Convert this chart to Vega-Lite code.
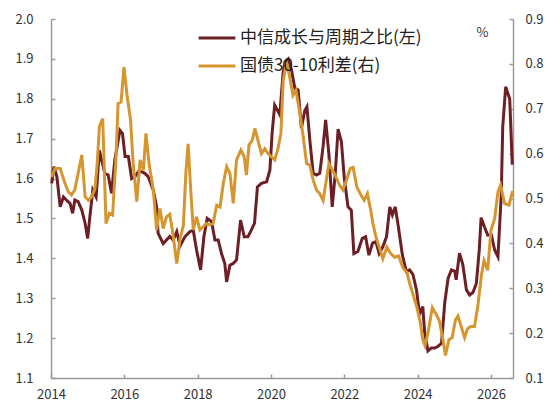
{
  "$schema": "https://vega.github.io/schema/vega-lite/v6.json",
  "width": 462,
  "height": 359,
  "autosize": {"type": "none"},
  "padding": {"left": 51, "top": 19, "right": 47, "bottom": 33},
  "background": "white",
  "config": {
    "view": {"stroke": null},
    "font": "Noto Sans CJK SC",
    "axis": {
      "grid": false,
      "domainColor": "#9a9a9a",
      "domainWidth": 1.5,
      "tickColor": "#9a9a9a",
      "tickWidth": 1.5,
      "tickSize": -4,
      "labelColor": "#333333",
      "labelFontSize": 13,
      "labelFont": "Noto Sans CJK SC",
      "titleFont": "Noto Sans CJK SC"
    }
  },
  "datasets": {
    "growth": [
      {"t": 2014.02, "v": 1.588}, {"t": 2014.08, "v": 1.630}, {"t": 2014.16, "v": 1.605}, {"t": 2014.25, "v": 1.529},
      {"t": 2014.34, "v": 1.554}, {"t": 2014.43, "v": 1.545}, {"t": 2014.52, "v": 1.538}, {"t": 2014.59, "v": 1.513},
      {"t": 2014.65, "v": 1.546}, {"t": 2014.74, "v": 1.542}, {"t": 2014.84, "v": 1.521}, {"t": 2014.93, "v": 1.488},
      {"t": 2015.00, "v": 1.450}, {"t": 2015.06, "v": 1.504}, {"t": 2015.14, "v": 1.571}, {"t": 2015.23, "v": 1.554},
      {"t": 2015.32, "v": 1.671}, {"t": 2015.38, "v": 1.646}, {"t": 2015.47, "v": 1.613}, {"t": 2015.56, "v": 1.609},
      {"t": 2015.65, "v": 1.563}, {"t": 2015.74, "v": 1.646}, {"t": 2015.88, "v": 1.721}, {"t": 2015.95, "v": 1.713},
      {"t": 2016.02, "v": 1.655}, {"t": 2016.11, "v": 1.655}, {"t": 2016.20, "v": 1.600}, {"t": 2016.29, "v": 1.605},
      {"t": 2016.38, "v": 1.617}, {"t": 2016.47, "v": 1.617}, {"t": 2016.56, "v": 1.613}, {"t": 2016.65, "v": 1.605},
      {"t": 2016.79, "v": 1.571}, {"t": 2016.88, "v": 1.529}, {"t": 2016.92, "v": 1.463}, {"t": 2017.06, "v": 1.437},
      {"t": 2017.15, "v": 1.446}, {"t": 2017.24, "v": 1.455}, {"t": 2017.33, "v": 1.446}, {"t": 2017.43, "v": 1.467},
      {"t": 2017.52, "v": 1.431}, {"t": 2017.65, "v": 1.454}, {"t": 2017.79, "v": 1.467}, {"t": 2017.88, "v": 1.470},
      {"t": 2017.97, "v": 1.421}, {"t": 2018.08, "v": 1.371}, {"t": 2018.17, "v": 1.454}, {"t": 2018.26, "v": 1.500},
      {"t": 2018.38, "v": 1.492}, {"t": 2018.47, "v": 1.446}, {"t": 2018.56, "v": 1.446}, {"t": 2018.65, "v": 1.412},
      {"t": 2018.74, "v": 1.387}, {"t": 2018.79, "v": 1.341}, {"t": 2018.88, "v": 1.383}, {"t": 2018.97, "v": 1.387},
      {"t": 2019.06, "v": 1.396}, {"t": 2019.17, "v": 1.496}, {"t": 2019.27, "v": 1.454}, {"t": 2019.37, "v": 1.454},
      {"t": 2019.46, "v": 1.470}, {"t": 2019.55, "v": 1.488}, {"t": 2019.63, "v": 1.579}, {"t": 2019.74, "v": 1.588},
      {"t": 2019.88, "v": 1.592}, {"t": 2019.97, "v": 1.621}, {"t": 2020.03, "v": 1.713}, {"t": 2020.10, "v": 1.784},
      {"t": 2020.24, "v": 1.760}, {"t": 2020.33, "v": 1.865}, {"t": 2020.38, "v": 1.893}, {"t": 2020.47, "v": 1.900},
      {"t": 2020.56, "v": 1.872}, {"t": 2020.65, "v": 1.826}, {"t": 2020.74, "v": 1.822}, {"t": 2020.83, "v": 1.726},
      {"t": 2020.92, "v": 1.770}, {"t": 2020.98, "v": 1.780}, {"t": 2021.06, "v": 1.696}, {"t": 2021.15, "v": 1.613},
      {"t": 2021.24, "v": 1.609}, {"t": 2021.33, "v": 1.613}, {"t": 2021.42, "v": 1.680}, {"t": 2021.49, "v": 1.747},
      {"t": 2021.58, "v": 1.660}, {"t": 2021.67, "v": 1.529}, {"t": 2021.75, "v": 1.610}, {"t": 2021.83, "v": 1.724},
      {"t": 2021.92, "v": 1.692}, {"t": 2022.00, "v": 1.600}, {"t": 2022.10, "v": 1.529}, {"t": 2022.19, "v": 1.521},
      {"t": 2022.26, "v": 1.412}, {"t": 2022.37, "v": 1.417}, {"t": 2022.49, "v": 1.450}, {"t": 2022.58, "v": 1.454},
      {"t": 2022.67, "v": 1.408}, {"t": 2022.77, "v": 1.438}, {"t": 2022.86, "v": 1.442}, {"t": 2022.95, "v": 1.412},
      {"t": 2023.05, "v": 1.429}, {"t": 2023.15, "v": 1.454}, {"t": 2023.24, "v": 1.529}, {"t": 2023.31, "v": 1.509},
      {"t": 2023.39, "v": 1.529}, {"t": 2023.48, "v": 1.475}, {"t": 2023.58, "v": 1.410}, {"t": 2023.69, "v": 1.367},
      {"t": 2023.78, "v": 1.371}, {"t": 2023.87, "v": 1.360}, {"t": 2023.97, "v": 1.320}, {"t": 2024.05, "v": 1.260},
      {"t": 2024.14, "v": 1.279}, {"t": 2024.19, "v": 1.215}, {"t": 2024.28, "v": 1.168}, {"t": 2024.37, "v": 1.175},
      {"t": 2024.46, "v": 1.175}, {"t": 2024.55, "v": 1.179}, {"t": 2024.65, "v": 1.187}, {"t": 2024.74, "v": 1.290},
      {"t": 2024.83, "v": 1.350}, {"t": 2024.92, "v": 1.371}, {"t": 2025.01, "v": 1.368}, {"t": 2025.05, "v": 1.346},
      {"t": 2025.14, "v": 1.413}, {"t": 2025.23, "v": 1.385}, {"t": 2025.33, "v": 1.321}, {"t": 2025.42, "v": 1.308},
      {"t": 2025.51, "v": 1.315}, {"t": 2025.60, "v": 1.337}, {"t": 2025.68, "v": 1.421}, {"t": 2025.73, "v": 1.502},
      {"t": 2025.82, "v": 1.479}, {"t": 2025.91, "v": 1.458}, {"t": 2026.01, "v": 1.459}, {"t": 2026.10, "v": 1.421},
      {"t": 2026.19, "v": 1.404}, {"t": 2026.28, "v": 1.560}, {"t": 2026.32, "v": 1.730}, {"t": 2026.40, "v": 1.830},
      {"t": 2026.51, "v": 1.800}, {"t": 2026.58, "v": 1.635}
    ],
    "spread": [
      {"t": 2014.02, "v": 0.548}, {"t": 2014.11, "v": 0.567}, {"t": 2014.25, "v": 0.567}, {"t": 2014.38, "v": 0.534},
      {"t": 2014.47, "v": 0.515}, {"t": 2014.56, "v": 0.508}, {"t": 2014.65, "v": 0.519}, {"t": 2014.74, "v": 0.556},
      {"t": 2014.84, "v": 0.597}, {"t": 2014.93, "v": 0.504}, {"t": 2015.02, "v": 0.496}, {"t": 2015.11, "v": 0.504},
      {"t": 2015.20, "v": 0.522}, {"t": 2015.26, "v": 0.578}, {"t": 2015.32, "v": 0.660}, {"t": 2015.41, "v": 0.678},
      {"t": 2015.50, "v": 0.444}, {"t": 2015.59, "v": 0.467}, {"t": 2015.68, "v": 0.463}, {"t": 2015.77, "v": 0.586},
      {"t": 2015.83, "v": 0.712}, {"t": 2015.91, "v": 0.715}, {"t": 2015.99, "v": 0.793}, {"t": 2016.08, "v": 0.726},
      {"t": 2016.17, "v": 0.675}, {"t": 2016.24, "v": 0.578}, {"t": 2016.34, "v": 0.493}, {"t": 2016.43, "v": 0.586},
      {"t": 2016.52, "v": 0.563}, {"t": 2016.59, "v": 0.645}, {"t": 2016.68, "v": 0.574}, {"t": 2016.79, "v": 0.519},
      {"t": 2016.88, "v": 0.430}, {"t": 2016.97, "v": 0.478}, {"t": 2017.06, "v": 0.433}, {"t": 2017.15, "v": 0.459},
      {"t": 2017.24, "v": 0.465}, {"t": 2017.33, "v": 0.418}, {"t": 2017.43, "v": 0.355}, {"t": 2017.52, "v": 0.411},
      {"t": 2017.61, "v": 0.440}, {"t": 2017.68, "v": 0.560}, {"t": 2017.74, "v": 0.622}, {"t": 2017.81, "v": 0.520},
      {"t": 2017.88, "v": 0.430}, {"t": 2017.97, "v": 0.459}, {"t": 2018.06, "v": 0.430}, {"t": 2018.15, "v": 0.437},
      {"t": 2018.24, "v": 0.444}, {"t": 2018.33, "v": 0.441}, {"t": 2018.42, "v": 0.444}, {"t": 2018.52, "v": 0.485},
      {"t": 2018.61, "v": 0.481}, {"t": 2018.70, "v": 0.534}, {"t": 2018.79, "v": 0.571}, {"t": 2018.88, "v": 0.556},
      {"t": 2018.97, "v": 0.489}, {"t": 2019.06, "v": 0.586}, {"t": 2019.18, "v": 0.608}, {"t": 2019.27, "v": 0.593},
      {"t": 2019.33, "v": 0.552}, {"t": 2019.40, "v": 0.619}, {"t": 2019.49, "v": 0.630}, {"t": 2019.56, "v": 0.656},
      {"t": 2019.63, "v": 0.634}, {"t": 2019.74, "v": 0.600}, {"t": 2019.83, "v": 0.611}, {"t": 2019.92, "v": 0.600},
      {"t": 2020.01, "v": 0.593}, {"t": 2020.10, "v": 0.586}, {"t": 2020.19, "v": 0.611}, {"t": 2020.27, "v": 0.645},
      {"t": 2020.33, "v": 0.760}, {"t": 2020.42, "v": 0.805}, {"t": 2020.51, "v": 0.771}, {"t": 2020.60, "v": 0.730},
      {"t": 2020.68, "v": 0.741}, {"t": 2020.79, "v": 0.689}, {"t": 2020.88, "v": 0.637}, {"t": 2020.97, "v": 0.578},
      {"t": 2021.06, "v": 0.574}, {"t": 2021.15, "v": 0.541}, {"t": 2021.24, "v": 0.519}, {"t": 2021.33, "v": 0.511},
      {"t": 2021.42, "v": 0.496}, {"t": 2021.51, "v": 0.541}, {"t": 2021.58, "v": 0.578}, {"t": 2021.68, "v": 0.563},
      {"t": 2021.77, "v": 0.548}, {"t": 2021.87, "v": 0.530}, {"t": 2021.96, "v": 0.519}, {"t": 2022.06, "v": 0.541},
      {"t": 2022.16, "v": 0.567}, {"t": 2022.24, "v": 0.569}, {"t": 2022.34, "v": 0.526}, {"t": 2022.44, "v": 0.510},
      {"t": 2022.54, "v": 0.496}, {"t": 2022.63, "v": 0.511}, {"t": 2022.71, "v": 0.478}, {"t": 2022.78, "v": 0.444},
      {"t": 2022.86, "v": 0.415}, {"t": 2022.95, "v": 0.392}, {"t": 2023.05, "v": 0.366}, {"t": 2023.16, "v": 0.392},
      {"t": 2023.26, "v": 0.378}, {"t": 2023.37, "v": 0.369}, {"t": 2023.48, "v": 0.372}, {"t": 2023.60, "v": 0.345},
      {"t": 2023.71, "v": 0.335}, {"t": 2023.78, "v": 0.311}, {"t": 2023.87, "v": 0.287}, {"t": 2023.97, "v": 0.260},
      {"t": 2024.07, "v": 0.225}, {"t": 2024.14, "v": 0.185}, {"t": 2024.20, "v": 0.172}, {"t": 2024.28, "v": 0.200},
      {"t": 2024.40, "v": 0.257}, {"t": 2024.50, "v": 0.242}, {"t": 2024.59, "v": 0.228}, {"t": 2024.68, "v": 0.190},
      {"t": 2024.76, "v": 0.150}, {"t": 2024.85, "v": 0.185}, {"t": 2024.94, "v": 0.190}, {"t": 2025.03, "v": 0.229},
      {"t": 2025.10, "v": 0.238}, {"t": 2025.19, "v": 0.214}, {"t": 2025.28, "v": 0.190}, {"t": 2025.36, "v": 0.210},
      {"t": 2025.45, "v": 0.215}, {"t": 2025.55, "v": 0.215}, {"t": 2025.64, "v": 0.260}, {"t": 2025.74, "v": 0.330},
      {"t": 2025.81, "v": 0.362}, {"t": 2025.91, "v": 0.340}, {"t": 2026.00, "v": 0.430}, {"t": 2026.10, "v": 0.455},
      {"t": 2026.19, "v": 0.515}, {"t": 2026.26, "v": 0.530}, {"t": 2026.37, "v": 0.489}, {"t": 2026.49, "v": 0.485},
      {"t": 2026.59, "v": 0.517}
    ]
  },
  "encoding": {
    "x": {
      "field": "t",
      "type": "quantitative",
      "scale": {"domain": [2014, 2026.6], "nice": false, "zero": false},
      "axis": {
        "title": null,
        "values": [2014, 2016, 2018, 2020, 2022, 2024, 2026],
        "format": "d",
        "labelPadding": 14,
        "labelFlush": false
      }
    }
  },
  "layer": [
    {
      "data": {"name": "growth"},
      "mark": {"type": "line", "strokeWidth": 3, "strokeJoin": "miter"},
      "encoding": {
        "y": {
          "field": "v",
          "type": "quantitative",
          "scale": {"domain": [1.1, 2.0], "nice": false, "zero": false},
          "axis": {
            "title": null,
            "orient": "left",
            "values": [1.1, 1.2, 1.3, 1.4, 1.5, 1.6, 1.7, 1.8, 1.9, 2.0],
            "format": ".1f",
            "labelPadding": 22
          }
        },
        "color": {
          "datum": "中信成长与周期之比(左)",
          "type": "nominal",
          "scale": {
            "domain": ["中信成长与周期之比(左)", "国债30-10利差(右)"],
            "range": ["#6c1f24", "#d6962f"]
          },
          "legend": {
            "title": null,
            "orient": "none",
            "legendX": 146,
            "legendY": -1,
            "symbolType": "stroke",
            "symbolSize": 1350,
            "symbolStrokeWidth": 3,
            "labelFontSize": 17,
            "labelColor": "#222222",
            "labelFont": "Noto Sans CJK SC",
            "labelOffset": 3,
            "rowPadding": -13,
            "labelLimit": 300
          }
        }
      }
    },
    {
      "data": {"name": "spread"},
      "mark": {"type": "line", "strokeWidth": 3, "strokeJoin": "miter"},
      "encoding": {
        "y": {
          "field": "v",
          "type": "quantitative",
          "scale": {"domain": [0.1, 0.9], "nice": false, "zero": false},
          "axis": {
            "title": "%",
            "orient": "right",
            "values": [0.1, 0.2, 0.3, 0.4, 0.5, 0.6, 0.7, 0.8, 0.9],
            "format": ".1f",
            "labelPadding": 16,
            "titleAngle": 0,
            "titleX": -31,
            "titleY": 13,
            "titleAlign": "center",
            "titleBaseline": "middle",
            "titleFontSize": 13,
            "titleFontWeight": "normal",
            "titleColor": "#333333"
          }
        },
        "color": {"datum": "国债30-10利差(右)", "type": "nominal"}
      }
    }
  ],
  "resolve": {"scale": {"y": "independent"}}
}
